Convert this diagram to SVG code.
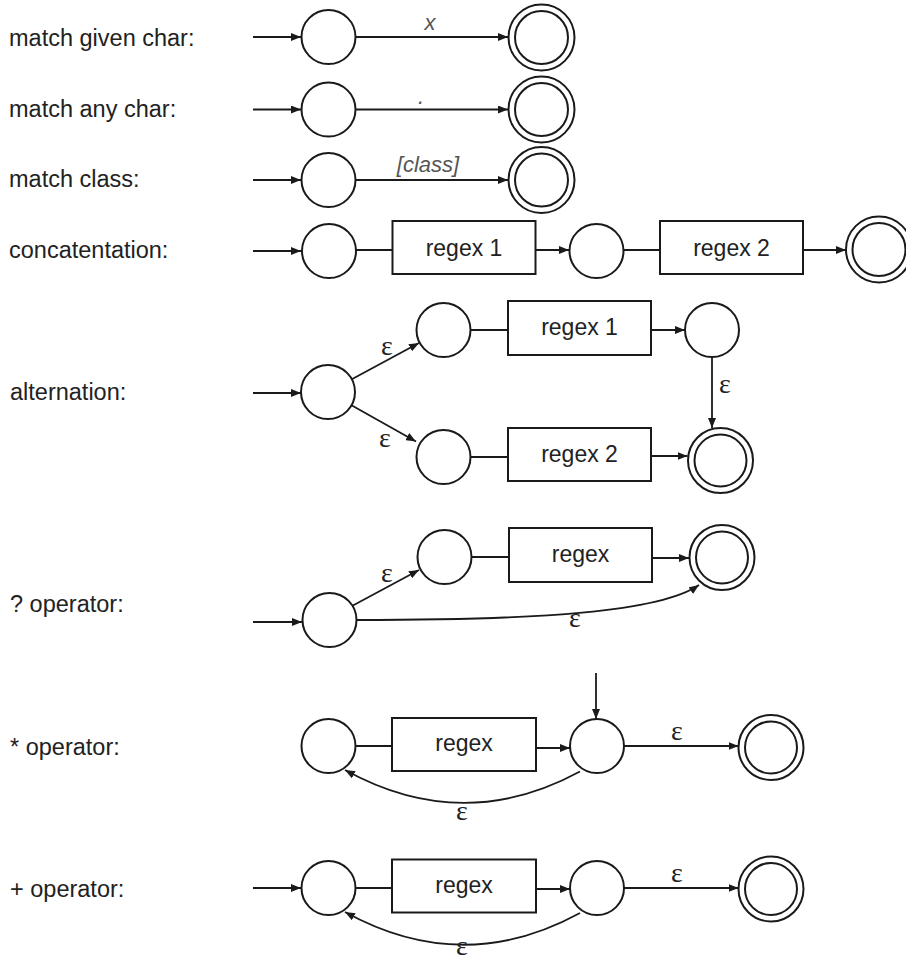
<svg xmlns="http://www.w3.org/2000/svg" width="906" height="963" viewBox="0 0 906 963">
<defs>
<marker id="ah" markerUnits="userSpaceOnUse" markerWidth="10" markerHeight="8" refX="10" refY="4" orient="auto">
<path d="M0,0 L10,4 L0,8 z" fill="#1a1a1a"/>
</marker>
<style>
.st{fill:#fff;stroke:#1a1a1a;stroke-width:2}
.box{fill:#fff;stroke:#1a1a1a;stroke-width:2}
.e{fill:none;stroke:#1a1a1a;stroke-width:1.8}
.a{fill:none;stroke:#1a1a1a;stroke-width:1.8;marker-end:url(#ah)}
.lbl{font-family:"Liberation Sans",Arial,sans-serif;font-size:23.5px;fill:#222}
.bt{font-family:"Liberation Sans",Arial,sans-serif;font-size:23px;fill:#222;text-anchor:middle}
.it{font-family:"Liberation Sans",Arial,sans-serif;font-size:22px;font-style:italic;fill:#555;text-anchor:middle}
.eps{font-family:"Liberation Serif","Times New Roman",serif;font-size:28px;fill:#222;text-anchor:middle}
</style>
</defs>
<rect width="906" height="963" fill="#fff"/>

<g id="labels">
<text class="lbl" x="9" y="46">match given char:</text>
<text class="lbl" x="9" y="117">match any char:</text>
<text class="lbl" x="9" y="187">match class:</text>
<text class="lbl" x="9" y="258">concatentation:</text>
<text class="lbl" x="10" y="400">alternation:</text>
<text class="lbl" x="10" y="612">? operator:</text>
<text class="lbl" x="10" y="755">* operator:</text>
<text class="lbl" x="10" y="897">+ operator:</text>
</g>

<g id="connectors">
<line class="a" x1="253" y1="37" x2="301" y2="37"/>
<line class="a" x1="356" y1="37" x2="508" y2="37"/>
<line class="a" x1="253" y1="109.5" x2="301" y2="109.5"/>
<line class="a" x1="356" y1="109.5" x2="508" y2="109.5"/>
<line class="a" x1="253" y1="180" x2="301" y2="180"/>
<line class="a" x1="356" y1="180" x2="508" y2="180"/>
<line class="a" x1="253" y1="251" x2="301" y2="251"/>
<line class="e" x1="356" y1="250" x2="392.5" y2="250"/>
<line class="a" x1="535.5" y1="250" x2="569" y2="250"/>
<line class="e" x1="623.5" y1="250" x2="660" y2="250"/>
<line class="a" x1="803" y1="250" x2="846" y2="250"/>
<line class="a" x1="253" y1="393" x2="301" y2="393"/>
<line class="a" x1="351.8" y1="379.2" x2="419" y2="343"/>
<line class="a" x1="351.5" y1="405.2" x2="416" y2="441.5"/>
<line class="e" x1="470.5" y1="330" x2="508" y2="330"/>
<line class="a" x1="651" y1="330" x2="685" y2="330"/>
<line class="e" x1="470.5" y1="457" x2="508" y2="457"/>
<line class="a" x1="651" y1="456" x2="687.5" y2="456"/>
<line class="a" x1="712" y1="357" x2="712" y2="428"/>
<line class="a" x1="253" y1="622" x2="302" y2="622"/>
<line class="a" x1="352" y1="606" x2="419" y2="570"/>
<line class="e" x1="471" y1="557" x2="509" y2="557"/>
<line class="a" x1="652" y1="558" x2="689" y2="558"/>
<path class="a" d="M357,620 C540,620 660,612 699,585"/>
<line class="a" x1="596" y1="673" x2="596" y2="719"/>
<line class="e" x1="355.5" y1="746" x2="392" y2="746"/>
<line class="a" x1="536" y1="748" x2="570" y2="748"/>
<line class="a" x1="624" y1="746" x2="738.5" y2="746"/>
<path class="a" d="M580,771.5 Q463,835 345,770"/>
<line class="a" x1="253" y1="888" x2="301" y2="888"/>
<line class="e" x1="355.5" y1="888" x2="392" y2="888"/>
<line class="a" x1="536" y1="889" x2="570" y2="889"/>
<line class="a" x1="624" y1="888" x2="738.5" y2="888"/>
<path class="a" d="M580,913 Q463,977 345,912"/>
</g>

<g id="edge-labels">
<text class="it" x="430" y="30">x</text>
<text class="it" x="421" y="104">.</text>
<text class="it" x="428" y="172">[class]</text>
<text class="eps" x="387" y="355">ε</text>
<text class="eps" x="385" y="447">ε</text>
<text class="eps" x="725" y="393">ε</text>
<text class="eps" x="387" y="582">ε</text>
<text class="eps" x="575" y="627">ε</text>
<text class="eps" x="677" y="740">ε</text>
<text class="eps" x="462" y="820">ε</text>
<text class="eps" x="677" y="882">ε</text>
<text class="eps" x="462" y="955">ε</text>
</g>

<g id="r1-start"><circle class="st" cx="328.5" cy="37" r="27"/></g>
<g id="r1-final"><circle class="st" cx="541.5" cy="37.5" r="33"/><circle class="st" cx="541.5" cy="37.5" r="26.5"/></g>
<g id="r2-start"><circle class="st" cx="328.5" cy="109.5" r="27"/></g>
<g id="r2-final"><circle class="st" cx="541.5" cy="109.5" r="33"/><circle class="st" cx="541.5" cy="109.5" r="26.5"/></g>
<g id="r3-start"><circle class="st" cx="328.5" cy="180" r="27"/></g>
<g id="r3-final"><circle class="st" cx="541.5" cy="180" r="33"/><circle class="st" cx="541.5" cy="180" r="26.5"/></g>

<g id="c-s1"><circle class="st" cx="329" cy="251" r="27"/></g>
<g id="c-regex1"><rect class="box" x="392.5" y="221" width="143" height="53"/><text class="bt" x="464" y="256">regex 1</text></g>
<g id="c-s2"><circle class="st" cx="596.5" cy="251" r="27"/></g>
<g id="c-regex2"><rect class="box" x="660" y="221" width="143" height="53"/><text class="bt" x="731.5" y="256">regex 2</text></g>
<g id="c-final"><circle class="st" cx="879" cy="249.5" r="33"/><circle class="st" cx="879" cy="249.5" r="26.5"/></g>

<g id="a-start"><circle class="st" cx="328" cy="392" r="27"/></g>
<g id="a-s1"><circle class="st" cx="443.5" cy="330" r="27"/></g>
<g id="a-regex1"><rect class="box" x="508" y="301" width="143" height="54"/><text class="bt" x="579.5" y="335">regex 1</text></g>
<g id="a-s1end"><circle class="st" cx="712" cy="330" r="27"/></g>
<g id="a-s2"><circle class="st" cx="443.5" cy="457" r="27"/></g>
<g id="a-regex2"><rect class="box" x="508" y="428" width="143" height="53"/><text class="bt" x="579.5" y="462">regex 2</text></g>
<g id="a-final"><circle class="st" cx="720.5" cy="460.5" r="32.5"/><circle class="st" cx="720.5" cy="460.5" r="26"/></g>

<g id="q-start"><circle class="st" cx="329.5" cy="620" r="27"/></g>
<g id="q-s1"><circle class="st" cx="444.5" cy="557" r="27"/></g>
<g id="q-regex"><rect class="box" x="509" y="528" width="143" height="54"/><text class="bt" x="580.5" y="562">regex</text></g>
<g id="q-final"><circle class="st" cx="722" cy="557.5" r="32.5"/><circle class="st" cx="722" cy="557.5" r="26"/></g>

<g id="s-s1"><circle class="st" cx="328.5" cy="746" r="27"/></g>
<g id="s-regex"><rect class="box" x="392" y="718" width="144" height="53"/><text class="bt" x="464" y="751">regex</text></g>
<g id="s-s2"><circle class="st" cx="597" cy="746" r="27"/></g>
<g id="s-final"><circle class="st" cx="771" cy="747.5" r="32.5"/><circle class="st" cx="771" cy="747.5" r="26"/></g>

<g id="p-s1"><circle class="st" cx="328.5" cy="888" r="27"/></g>
<g id="p-regex"><rect class="box" x="392" y="859.5" width="144" height="53"/><text class="bt" x="464" y="893">regex</text></g>
<g id="p-s2"><circle class="st" cx="597" cy="888" r="27"/></g>
<g id="p-final"><circle class="st" cx="771" cy="889" r="32.5"/><circle class="st" cx="771" cy="889" r="26"/></g>
</svg>
